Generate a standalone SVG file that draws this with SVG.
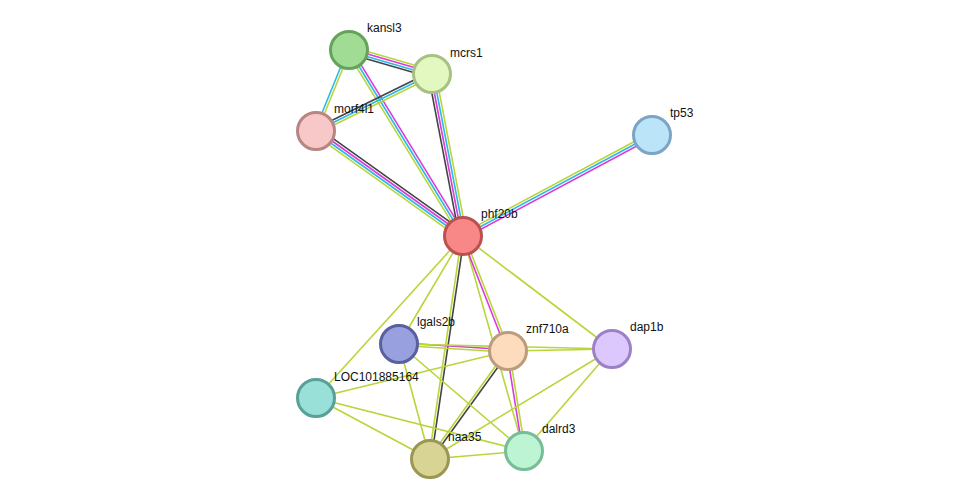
<svg xmlns="http://www.w3.org/2000/svg" width="975" height="504" viewBox="0 0 975 504">
<style>
.y{stroke:#b8d63a;stroke-width:1.6}.c{stroke:#2eb8e8;stroke-width:1.6}.m{stroke:#d93cd9;stroke-width:1.6}.k{stroke:#444;stroke-width:1.6}
.n circle{stroke-width:3}
text{font-family:"Liberation Sans",Arial,sans-serif;font-size:12px;fill:#111}
</style>
<rect width="975" height="504" fill="#fff"/>
<g id="connectors">
<g><line class="y" x1="349" y1="50" x2="432" y2="74" transform="translate(1.04,-3.6)"/><line class="m" x1="349" y1="50" x2="432" y2="74" transform="translate(0.35,-1.2)"/><line class="c" x1="349" y1="50" x2="432" y2="74" transform="translate(-0.35,1.2)"/><line class="k" x1="349" y1="50" x2="432" y2="74" transform="translate(-1.04,3.6)"/></g>
<g><line class="y" x1="349" y1="50" x2="316" y2="131" transform="translate(1.16,0.47)"/><line class="c" x1="349" y1="50" x2="316" y2="131" transform="translate(-1.16,-0.47)"/></g>
<g><line class="m" x1="349" y1="50" x2="463" y2="236" transform="translate(2.13,-1.31)"/><line class="c" x1="349" y1="50" x2="463" y2="236"/><line class="y" x1="349" y1="50" x2="463" y2="236" transform="translate(-2.13,1.31)"/></g>
<g><line class="y" x1="432" y1="74" x2="316" y2="131" transform="translate(1.1,2.24)"/><line class="c" x1="432" y1="74" x2="316" y2="131"/><line class="k" x1="432" y1="74" x2="316" y2="131" transform="translate(-1.1,-2.24)"/></g>
<g><line class="y" x1="432" y1="74" x2="463" y2="236" transform="translate(3.68,-0.7)"/><line class="c" x1="432" y1="74" x2="463" y2="236" transform="translate(1.23,-0.23)"/><line class="m" x1="432" y1="74" x2="463" y2="236" transform="translate(-1.23,0.23)"/><line class="k" x1="432" y1="74" x2="463" y2="236" transform="translate(-3.68,0.7)"/></g>
<g><line class="k" x1="316" y1="131" x2="463" y2="236" transform="translate(2.18,-3.05)"/><line class="m" x1="316" y1="131" x2="463" y2="236" transform="translate(0.73,-1.02)"/><line class="c" x1="316" y1="131" x2="463" y2="236" transform="translate(-0.73,1.02)"/><line class="y" x1="316" y1="131" x2="463" y2="236" transform="translate(-2.18,3.05)"/></g>
<g><line class="m" x1="652" y1="135" x2="463" y2="236" transform="translate(1.18,2.2)"/><line class="c" x1="652" y1="135" x2="463" y2="236"/><line class="y" x1="652" y1="135" x2="463" y2="236" transform="translate(-1.18,-2.2)"/></g>
<line class="y" x1="463" y1="236" x2="399" y2="344"/>
<line class="y" x1="463" y1="236" x2="316" y2="398"/>
<line class="y" x1="463" y1="236" x2="612" y2="349"/>
<line class="y" x1="463" y1="236" x2="524" y2="451"/>
<g><line class="k" x1="463" y1="236" x2="430" y2="459" transform="translate(1.24,0.18)"/><line class="y" x1="463" y1="236" x2="430" y2="459" transform="translate(-1.24,-0.18)"/></g>
<g><line class="y" x1="463" y1="236" x2="508" y2="351" transform="translate(1.16,-0.46)"/><line class="m" x1="463" y1="236" x2="508" y2="351" transform="translate(-1.16,0.46)"/></g>
<g><line class="y" x1="508" y1="351" x2="524" y2="451" transform="translate(1.23,-0.2)"/><line class="m" x1="508" y1="351" x2="524" y2="451" transform="translate(-1.23,0.2)"/></g>
<g><line class="m" x1="399" y1="344" x2="508" y2="351" transform="translate(0.08,-1.25)"/><line class="y" x1="399" y1="344" x2="508" y2="351" transform="translate(-0.08,1.25)"/></g>
<g><line class="k" x1="508" y1="351" x2="430" y2="459" transform="translate(1.01,0.73)"/><line class="y" x1="508" y1="351" x2="430" y2="459" transform="translate(-1.01,-0.73)"/></g>
<line class="y" x1="399" y1="344" x2="612" y2="349"/>
<line class="y" x1="399" y1="344" x2="430" y2="459"/>
<line class="y" x1="399" y1="344" x2="524" y2="451"/>
<line class="y" x1="316" y1="398" x2="508" y2="351"/>
<line class="y" x1="316" y1="398" x2="430" y2="459"/>
<line class="y" x1="316" y1="398" x2="524" y2="451"/>
<line class="y" x1="508" y1="351" x2="612" y2="349"/>
<line class="y" x1="430" y1="459" x2="612" y2="349"/>
<line class="y" x1="430" y1="459" x2="524" y2="451"/>
<line class="y" x1="524" y1="451" x2="612" y2="349"/>
</g>
<g id="kansl3" class="n"><circle cx="349" cy="50" r="18.5" fill="#a0dc94" stroke="#64a35a"/><text x="367" y="32">kansl3</text></g>
<g id="mcrs1" class="n"><circle cx="432" cy="74" r="18.5" fill="#e2f8c0" stroke="#a6c182"/><text x="450" y="57">mcrs1</text></g>
<g id="morf4l1" class="n"><circle cx="316" cy="131" r="18.5" fill="#f8c8c8" stroke="#b88484"/><text x="334" y="113">morf4l1</text></g>
<g id="tp53" class="n"><circle cx="652" cy="135" r="18.5" fill="#bce4f8" stroke="#7ca4c4"/><text x="670" y="117">tp53</text></g>
<g id="phf20b" class="n"><circle cx="463" cy="236" r="18.5" fill="#f88888" stroke="#bc5050"/><text x="481" y="218">phf20b</text></g>
<g id="lgals2b" class="n"><circle cx="399" cy="344" r="18.5" fill="#98a0e0" stroke="#5860a0"/><text x="417" y="326">lgals2b</text></g>
<g id="znf710a" class="n"><circle cx="508" cy="351" r="18.5" fill="#fcdcbc" stroke="#bc9c7c"/><text x="526" y="333">znf710a</text></g>
<g id="dap1b" class="n"><circle cx="612" cy="349" r="18.5" fill="#dcc8fc" stroke="#9c80c8"/><text x="630" y="331">dap1b</text></g>
<g id="LOC101885164" class="n"><circle cx="316" cy="398" r="18.5" fill="#98e0d8" stroke="#58a098"/><text x="334" y="381">LOC101885164</text></g>
<g id="naa35" class="n"><circle cx="430" cy="459" r="18.5" fill="#d8d494" stroke="#9c9654"/><text x="448" y="441">naa35</text></g>
<g id="dalrd3" class="n"><circle cx="524" cy="451" r="18.5" fill="#bcf4d4" stroke="#78bc98"/><text x="542" y="433">dalrd3</text></g>
</svg>
